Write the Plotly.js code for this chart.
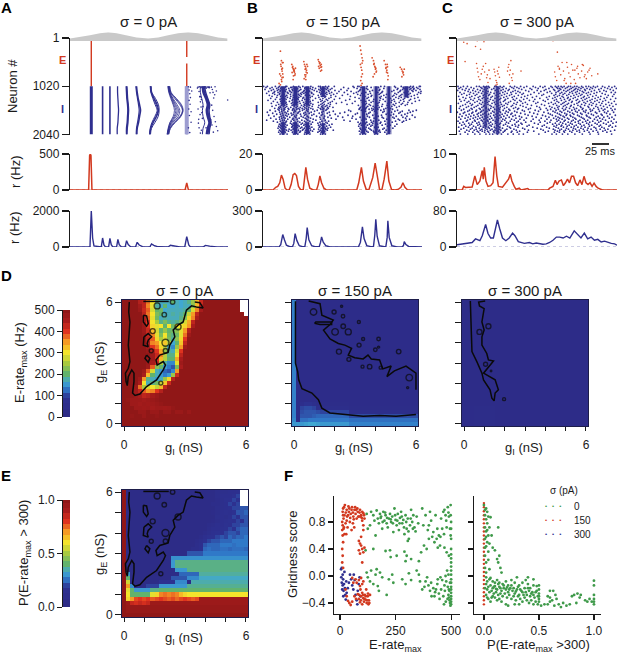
<!DOCTYPE html>
<html><head><meta charset="utf-8">
<script src="https://cdn.plot.ly/plotly-3.0.1.min.js"></script>
<style>html,body{margin:0;padding:0;background:#fff}</style></head>
<body><div id="chart" style="width:617px;height:653px"></div>
<script>
const RED='#d2391f', BLUE='#2f2f8f', GREEN='#3f9a4a', DOT='#d9512f', INK='#1a1a1a', GREY='#c9c9c9';
const R=500, N=null;
// time axis unit: 1 step = 25/51 ms
const tRange=[0,475];
const bumpT=[0,30,60,90,115,140,170,200,235,265,295,325,355,385,415,445,473];
const bumpA=[6,9,13,18,20,18,13,8,6,8,13,18,20,18,13,8,6];

// ---- Panel A raster
const aEspikes=[[64,64],[351,351],[351,351]];
const aEneurons=[[1,1020],[1,400],[540,1020]];
const aLevels=[1020,1150,1280,1410,1530,1660,1790,1910,2040];
const aFronts=[[64,64,64,64,64,64,64,64,64],[98,98,98,98,98,98,98,98,98],[120,120,120,120,120,120,120,120,120],
[143,143,144,145,146,145,144,142,142],[169,170,171,173,174,173,172,170,170],[171,172,173,175,176,175,174,172,171],[200,202,205,209,212,209,206,202,201],[198,200,203,206,208,206,203,200,199],
[242,245,253,262,266,260,250,243,240],[241,243,249,256,262,255,246,241,239],[244,246,257,266,268,265,255,245,242],[243,244,251,259,264,258,248,242,240],
[298,302,315,330,338,330,312,300,295],[300,304,320,335,340,333,316,302,297],[297,300,310,322,330,325,308,298,294],[296,299,306,315,322,316,303,297,293],[294,297,303,310,314,310,300,295,292],[299,303,318,333,339,332,314,301,296],[295,298,305,312,318,313,301,296,292],[296,300,308,318,326,320,305,297,293],
[351,351,351,351,351,351,351,351,351],[400,402,410,415,412,415,420,415,412],[392,392,396,400,398,400,405,400,398],[404,408,414,420,418,420,424,420,418]];
const aFrontW=[3,1.6,1.6,1.3,1.5,1.5,1.6,1.2,1.3,1,1,1,.8,.8,.8,.8,.8,.8,.8,.8,2.2,3,1,1.5];
const aDotsT=[356,358,360,362,361,357,359,364,356,360,385,388,390,392,394,396,398,386,388,392,425,428,430,432,435,426,429,433,437,440,444,436,423,427,431,419,385,391,395,474,440,421,383,389,394,397,399,402,405,408,410,413,416,418,406,395,400,409,387,392,362,358,364,366];
const aDotsN=[1030,1100,1180,1260,1400,1500,1640,1780,1900,2000,1040,1130,1240,1350,1460,1580,1700,1800,1900,2010,1040,1090,1150,1270,1200,1420,1530,1660,1770,1870,1960,1030,1730,1840,1990,1050,1500,1620,1950,1310,1120,1160,1060,1030,1045,1030,1060,1035,1050,1030,1060,1035,1045,1030,1055,1300,1450,1900,1720,1240,1040,1320,1560,1120];

// ---- Panel B raster
const bEt=[52,55,58,54,56,57,50,53,59,55,48,52,56,57,53,58,86,88,90,92,94,96,89,93,91,87,95,90,92,122,124,126,128,130,132,125,127,129,131,123,128,126,165,167,169,171,173,175,168,172,170,166,174,290,292,294,296,298,291,293,295,297,294,292,296,293,326,330,332,334,336,338,331,335,333,329,337,362,366,368,370,372,374,367,371,369,373,410,414,416,418,420,422,415,419,60,97,133,60,296,339,372,175,128,93];
const bEn=[280,480,520,600,660,700,760,800,760,880,960,990,920,840,560,640,560,620,650,690,720,760,600,680,800,730,790,880,660,500,560,600,640,680,740,780,820,720,560,860,880,660,460,500,540,580,620,680,640,700,520,600,560,170,260,340,420,480,560,620,680,760,820,900,960,1000,420,480,540,600,660,720,560,620,760,820,640,480,560,620,680,740,800,640,560,720,880,620,660,700,740,780,660,820,720,520,640,600,830,530,700,610,610,780,710];
const bCoreT=[60,97,133,180,300,338,376,428];
const bCoreA=[1020,1020,1020,1020,1020,1020,1020,1020];
const bCoreB=[1430,1430,1430,1250,2040,2040,2040,1260];
const bCoreW=[3.5,4,3.5,3,3.5,3,3,4];
const bLowA=[1780,1780,1780,1800];
const bLowT=[60,97,133,180];
const bINeurons=[1024,1045,1066,1087,1108,1129,1150,1171,1192,1213,1234,1255,1276,1297,1318,1339,1360,1381,1402,1423,1444,1465,1486,1507,1528,1549,1570,1591,1612,1633,1654,1675,1696,1717,1738,1759,1780,1801,1822,1843,1864,1885,1906,1927,1948,1969,1990,2030];
const bIRows=[
[2,13,37,49,68,71,91,107,119,143,166,171,187,196,213,269,283,287,311,352,363,393,413,441,449,467,470],
[9,27,46,55,66,83,86,111,126,149,172,179,192,241,272,293,323,345,396,419,437,447,459],
[21,41,53,63,77,93,103,125,141,157,173,185,193,206,255,281,309,361,403,421,442,451,463],
[6,31,47,57,69,87,101,113,129,147,167,175,189,201,233,291,313,349,401,417,439,450,469],
[25,43,52,65,79,89,109,123,137,153,171,181,195,215,251,289,327,347,391,411,445,457],
[17,35,51,67,81,95,105,121,139,161,176,183,197,227,263,285,319,357,385,409,433,448,472],
[33,45,59,73,85,99,117,127,145,169,177,190,205,243,279,307,343,355,404,422,431,465],
[11,29,50,61,75,94,112,122,146,174,186,199,221,271,295,321,351,394,425,440,471],
[35,49,63,82,106,115,129,151,173,191,211,253,283,314,347,369,399,415,435,461],
[19,43,57,71,91,109,127,139,165,183,203,237,291,325,361,391,411,429,452],
[27,53,67,83,101,113,131,147,175,187,217,261,305,323,353,387,407,427,443],
[41,59,73,91,107,121,141,167,185,203,275,315,349,367,397,413,433,463],
[23,55,65,81,103,119,135,157,179,197,229,287,311,351,381,405,423,453],
[37,51,69,89,105,125,137,171,189,213,259,303,331,359,391,419,441],
[15,57,64,87,99,117,131,149,177,193,247,293,317,349,385,411,437,467],
[31,53,65,79,95,109,129,141,173,185,207,275,307,329,365,393,421,455],
[43,57,69,89,103,121,137,165,181,201,235,297,323,347,383,407,433],
[25,55,67,85,97,111,127,143,177,195,219,267,309,343,373,397,417,445],
[47,61,71,91,101,123,135,149,173,183,201,251,305,317,357,389,413,431],
[39,55,65,87,93,115,125,139,167,179,191,285,303,321,343,371,393,425],
[27,51,61,71,93,103,121,131,147,175,187,199,297,313,329,355,385,407],
[47,53,67,83,99,111,125,137,165,177,193,209,291,309,335,347,373,399],
[35,49,63,75,91,105,117,129,143,171,181,195,289,307,325,341,367,381],
[45,55,65,77,89,101,109,123,135,149,173,179,191,287,305,317,331,343,361,387],
[21,48,62,88,94,118,130,162,188,256,294,326,352,378,402,436,458],
[37,56,74,96,110,134,154,180,210,262,306,334,362,394,416,448],
[13,50,66,92,106,126,144,176,198,244,298,320,358,384,410,440],
[29,58,70,84,104,122,138,168,192,230,282,316,340,374,406,432],
[41,52,76,90,112,128,152,178,216,276,310,336,368,390,424],
[17,60,68,86,100,124,146,174,200,254,300,328,354,382,414,446],
[33,54,72,94,114,132,160,184,224,268,312,344,376,398,430],
[49,62,80,98,120,136,170,194,238,290,318,356,388,418,454],
[23,56,66,90,108,126,142,182,204,266,304,332,360,392,426],
[39,50,74,88,102,130,150,172,218,278,308,338,370,404,438],
[11,58,64,92,116,134,158,186,242,296,322,346,378,408,428],
[31,52,70,84,104,124,140,176,196,260,302,330,364,396,420],
[43,60,68,96,110,128,148,170,188,284,310,324,352,386,416],
[55,63,82,92,100,118,136,164,178,192,292,306,328,350,374],
[49,58,66,86,98,114,126,144,172,184,206,288,304,318,342,366,400],
[53,61,72,90,104,122,132,166,176,198,294,312,326,356,380],
[47,56,64,88,94,108,128,138,170,180,190,286,302,322,338,372,394],
[51,60,68,86,102,116,130,146,168,182,202,298,308,334,344,376],
[45,54,62,92,100,112,124,140,174,186,194,290,300,316,336,362,388],
[57,65,78,90,96,120,134,152,166,178,188,292,306,320,340,358],
[49,59,70,84,106,118,128,142,172,192,210,296,304,324,348,368],
[53,63,76,94,100,112,136,148,168,176,184,288,310,330,346,378],
[47,56,66,88,98,110,126,138,164,174,182,294,302,314,332,350,364],
[51,58,62,72,92,96,104,124,130,140,172,178,186,290,298,306,334,342,370]];

// ---- Panel C raster
const cEt=[7,20,30,52,55,58,60,62,64,68,72,75,78,82,85,88,90,92,95,98,110,112,114,116,118,120,122,124,126,115,119,150,152,154,156,158,160,162,164,166,155,190,282,285,290,292,296,300,304,308,312,316,320,324,328,332,336,340,344,348,352,356,360,365,370,375,380,384,388,395,400,418,70,128,80,60,298,318,338,358,378,304,326,350,372,392,24];
const cEn=[40,90,120,10,180,540,640,720,820,880,760,660,600,720,540,840,780,940,680,860,660,720,800,900,940,700,760,620,830,1000,980,700,620,560,780,680,480,840,900,760,960,700,20,60,720,820,900,600,640,780,520,700,860,960,620,740,820,560,680,880,960,640,760,840,700,580,780,860,720,640,800,760,240,10,80,60,300,900,960,600,820,660,520,680,560,680,500];
const cCoreT=[85,120];
const cCoreB=[1900,2040];
const cCoreW=[2.6,3];
const cINeurons=[1024,1045,1066,1087,1108,1129,1150,1171,1192,1213,1234,1255,1276,1297,1318,1339,1360,1381,1402,1423,1444,1465,1486,1507,1528,1549,1570,1591,1612,1633,1654,1675,1696,1717,1738,1759,1780,1801,1822,1843,1864,1885,1906,1927,1948,1969,1990,2030];
const cIRows=[
[3,19,31,58,66,79,88,93,112,117,128,139,158,171,189,207,226,247,261,279,292,301,309,318,331,337,349,356,370,383,391,405,417,432,451,468],
[11,42,71,83,96,121,134,163,178,199,233,255,283,296,313,327,344,362,374,397,411,439,460],
[6,27,50,74,90,109,125,146,168,184,217,241,273,299,305,322,339,353,368,386,402,428,447,473],
[16,36,61,81,103,119,137,155,192,222,264,287,308,334,350,359,379,394,421,455],
[2,24,47,69,87,114,131,152,173,204,238,259,290,303,317,329,346,365,381,408,436,464],
[33,55,77,92,123,143,166,181,213,249,276,300,324,341,357,372,399,424,443],
[9,40,64,84,100,118,136,160,187,229,268,294,311,335,352,376,390,415,458,470],
[21,49,73,89,110,127,149,175,197,243,281,306,320,343,363,384,407,431],
[14,37,59,82,97,122,141,162,193,219,257,293,315,332,355,371,396,440,466],
[29,54,78,94,116,133,156,182,210,252,288,304,326,347,367,388,413,449],
[5,44,68,86,105,124,147,170,201,236,274,298,312,338,360,378,403,427,462],
[18,38,63,80,101,120,139,164,191,224,266,291,316,330,351,375,392,419,445],
[26,52,75,91,113,130,151,177,208,246,284,307,328,345,369,385,410,437,471],
[8,41,65,85,99,126,144,167,198,231,270,295,319,336,358,380,401,425,456],
[22,48,70,88,107,122,142,172,186,215,256,289,310,333,354,373,395,416,441],
[12,35,60,83,95,117,138,159,190,227,262,297,323,342,364,387,409,433,467],
[30,53,76,90,111,129,153,179,203,240,280,302,318,340,361,377,398,422,450],
[4,39,67,84,104,121,145,169,195,234,272,292,314,331,356,382,404,430,459],
[25,46,72,92,115,132,150,176,209,251,286,309,327,348,370,393,414,442,472],
[17,43,62,81,98,124,140,165,188,221,260,296,321,339,359,379,400,426,453],
[10,34,57,79,102,119,135,161,196,237,275,303,316,337,366,389,412,435,463],
[28,51,74,87,108,128,148,174,205,245,282,299,325,346,368,391,418,446],
[7,42,66,86,100,123,141,168,183,218,265,290,313,334,355,374,406,429,457],
[20,45,69,93,112,126,154,180,212,248,278,301,322,349,372,395,420,439,469],
[13,37,58,78,96,118,137,157,194,232,269,294,317,341,362,383,402,434,461],
[32,56,73,89,106,125,146,171,200,242,285,306,329,352,376,397,423,448],
[1,23,47,70,85,110,129,152,178,216,258,291,311,335,357,381,411,438,465],
[19,44,64,82,101,121,143,163,189,228,271,298,320,343,367,390,415,444],
[9,36,60,77,94,116,134,160,202,239,277,304,326,347,371,399,428,454],
[27,50,71,88,109,127,149,173,211,254,283,308,324,336,358,384,405,431,470],
[15,41,63,83,99,120,139,166,185,223,263,293,315,338,363,386,419,447],
[6,33,55,75,91,113,131,155,192,235,273,300,319,344,369,392,413,436,460],
[24,48,68,86,103,124,145,175,206,250,287,305,328,350,374,396,424,452],
[11,39,61,80,97,117,136,162,187,226,267,295,312,332,353,378,408,432,466],
[31,52,72,90,107,122,142,170,199,244,279,302,321,345,365,388,417,441],
[3,28,54,76,92,114,133,158,182,220,261,297,318,340,360,382,403,427,458],
[18,46,65,84,100,119,147,177,204,247,276,307,330,351,373,394,421,449,473],
[8,35,59,79,95,115,129,153,190,230,268,292,314,337,361,385,410,435,463],
[22,43,67,87,105,126,144,172,193,241,284,303,323,342,366,391,416,443],
[14,38,62,81,98,118,138,164,183,214,259,296,311,333,354,377,400,426,455],
[26,49,70,85,102,123,150,174,208,253,288,309,327,348,370,393,422,451,471],
[5,34,56,78,93,111,127,156,181,225,266,294,316,339,359,380,407,430,461],
[20,45,66,84,96,116,135,159,195,238,274,301,325,346,368,389,412,437],
[12,40,57,74,89,104,125,148,169,201,249,286,310,331,352,375,398,425,448],
[29,51,69,83,99,113,130,143,176,212,256,291,305,322,344,363,387,414,440,468],
[7,36,60,75,91,108,121,141,163,186,228,271,298,317,335,356,378,404,433,456],
[24,47,64,82,94,110,124,137,161,179,209,262,289,304,319,341,364,392,418,445],
[10,32,53,68,86,97,106,120,132,151,167,184,197,243,282,295,313,329,350,372,395,420,459]];

// ---- Rates
const aRateET=[0,56,59,61,63,66,346,348,351,354,356,475];
const aRateE=[0,0,480,500,480,0,0,40,100,40,0,0];
const aRateIT=[0,60,64,68,72,94,98,102,106,116,120,124,128,140,144,148,154,166,170,175,182,197,202,208,218,240,245,252,265,295,302,312,330,345,351,357,362,400,407,420,440,475];
const aRateI=[0,0,2000,500,60,0,500,120,20,0,480,130,20,0,420,130,20,0,350,140,20,0,260,110,20,0,170,90,10,0,100,60,5,0,580,120,5,0,90,50,5,0];
const bRateET=[0,30,38,44,50,55,60,66,72,78,84,90,95,100,106,112,120,124,128,133,140,150,160,165,170,175,182,190,280,286,294,300,308,316,322,328,335,340,348,355,362,370,376,384,395,405,412,418,424,432,475];
const bRateE=[0,0,1.5,2,4,8.3,6,1,0,0,3,8.5,9.2,8,2,.3,0,6,12.6,6,1,0,0,3,7.8,4,1,0,0,4,12.6,5,.5,0,3,7,15,9,.5,0,6,16,5,.3,0,.5,1.5,4,1.5,0,0];
const bRateIT=[0,48,53,59,64,70,80,88,92,96,101,108,118,125,129,132,137,145,155,168,172,175,180,188,200,285,291,297,302,310,322,330,334,337,341,348,362,367,371,373,377,385,400,416,420,422,427,435,475];
const bRateI=[0,0,20,104,60,15,3,2,30,112,55,12,2,3,70,162,60,12,2,2,40,84,40,10,1,0,40,168,70,12,2,3,100,230,90,10,2,3,80,218,80,10,1,0,15,45,20,5,0];
const cRateET=[0,15,20,25,45,53,60,68,75,78,81,86,92,100,107,113,118,123,135,148,153,158,163,170,175,185,190,210,215,270,275,285,292,297,303,310,316,322,328,334,340,346,352,358,365,371,377,383,389,395,401,407,413,419,425,432,475];
const cRateE=[0,0,1,.7,.8,3.9,1.5,2.5,5.4,3,6.3,2.5,1,1.2,2,9.3,4,1,.8,2.5,3,4.4,2.5,1,.2,.5,0,.4,0,0,.5,1,2.7,1.5,2.5,2.8,1.2,2,3,2,3.8,3.8,2,1.2,2.8,1.5,3.8,2,1.5,2,1,1.9,1,.5,.3,0,0];
const cRateIT=[0,15,30,45,55,62,68,75,85,92,100,108,113,120,127,135,145,155,165,172,182,190,200,215,225,235,245,255,265,275,285,295,305,315,325,335,348,358,368,378,388,398,408,418,428,438,448,458,468,475];
const cRateI=[5,7,9,10,18,15,14,25,50,30,20,20,35,60,40,20,14,20,31,25,12,10,8,10,7,9,7,6,7,10,15,22,22,20,24,20,36,27,20,31,18,22,15,17,11,13,10,8,7,4];

// ---- Heat maps
const colorStops=[[0,'#2d2a85'],[.18,'#2d3190'],[.26,'#3079c8'],[.32,'#40a8d2'],[.4,'#62b36c'],[.5,'#a8ca3f'],[.6,'#f4e42c'],[.7,'#f59a25'],[.8,'#df331f'],[.9,'#a81c1c'],[1,'#901717']];
const gI=[0,.2,.4,.6,.8,1,1.2,1.4,1.6,1.8,2,2.2,2.4,2.6,2.8,3,3.2,3.4,3.6,3.8,4,4.2,4.4,4.6,4.8,5,5.2,5.4,5.6,5.8,6];
const gETop=[6,5.8,5.6,5.4,5.2,5,4.8,4.6,4.4,4.2,4,3.8,3.6,3.4,3.2,3,2.8,2.6,2.4,2.2,2,1.8,1.6,1.4,1.2,1,.8,.6,.4,.2,0];
const rate0=[
[R,R,R,R,440,430,370,300,190,170,170,170,200,170,160,170,190,240,330,420,R,R,R,R,R,R,R,R,R,N,N],
[R,R,R,R,460,430,360,290,180,160,200,160,160,170,160,170,170,230,330,440,R,R,R,R,R,R,R,R,R,N,N],
[R,R,R,R,470,420,380,280,200,210,160,170,170,170,170,180,200,280,360,450,R,R,R,R,R,R,R,R,R,N,N],
[R,R,R,R,R,430,370,300,220,200,170,170,180,170,180,200,270,350,430,R,R,R,R,R,R,R,R,R,R,R,N],
[R,R,R,R,R,440,380,290,210,170,180,170,170,170,190,230,310,360,450,R,R,R,R,R,R,R,R,R,R,R,R],
[R,R,R,R,R,450,400,300,250,190,220,190,180,190,220,280,340,430,R,R,R,R,R,R,R,R,R,R,R,R,R],
[R,R,R,R,R,470,400,310,290,300,200,300,210,300,300,310,350,450,R,R,R,R,R,R,R,R,R,R,R,R,R],
[R,R,R,R,R,470,420,330,280,200,240,200,210,230,290,350,440,R,R,R,R,R,R,R,R,R,R,R,R,R,R],
[R,R,R,R,R,480,430,360,290,220,300,210,190,210,290,370,470,R,R,R,R,R,R,R,R,R,R,R,R,R,R],
[R,R,R,R,R,R,440,380,310,250,290,220,180,230,310,400,R,R,R,R,R,R,R,R,R,R,R,R,R,R,R],
[R,R,R,R,R,R,450,360,350,300,320,260,160,200,320,430,R,R,R,R,R,R,R,R,R,R,R,R,R,R,R],
[R,R,R,R,R,R,460,400,370,310,260,170,140,240,350,470,R,R,R,R,R,R,R,R,R,R,R,R,R,R,R],
[R,R,R,R,R,R,480,440,400,340,240,180,170,280,400,R,R,R,R,R,R,R,R,R,R,R,R,R,R,R,R],
[R,R,R,R,R,R,R,470,420,360,260,190,190,300,430,R,R,R,R,R,R,R,R,R,R,R,R,R,R,R,R],
[R,R,R,R,R,R,480,470,410,330,260,200,200,340,450,R,R,R,R,R,R,R,R,R,R,R,R,R,R,R,R],
[R,R,R,R,R,R,480,450,420,250,180,140,140,290,470,R,R,R,R,R,R,R,R,R,R,R,R,R,R,R,R],
[R,R,R,R,R,R,470,380,230,200,150,130,110,220,450,R,R,R,R,R,R,R,R,R,R,R,R,R,R,R,R],
[R,R,R,R,R,470,380,280,170,150,120,110,140,350,R,R,R,R,R,R,R,R,R,R,R,R,R,R,R,R,R],
[R,R,R,R,R,450,330,200,170,150,130,150,240,420,R,R,R,R,R,R,R,R,R,R,R,R,R,R,R,R,R],
[R,R,R,R,470,350,190,170,150,170,240,310,440,R,R,R,R,R,R,R,R,R,R,R,R,R,R,R,R,R,R],
[R,R,R,R,450,300,170,190,210,270,320,420,R,R,R,R,R,R,R,R,R,R,R,R,R,R,R,R,R,R,R],
[R,R,R,480,370,250,280,300,270,330,430,R,R,R,R,R,R,R,R,R,R,R,R,R,R,R,R,R,R,R,R],
[R,R,R,470,430,380,350,360,400,440,R,R,R,R,R,R,R,R,R,R,R,R,R,R,R,R,R,R,R,R,R],
[R,R,490,470,450,430,440,460,480,R,R,R,R,R,R,R,R,R,R,R,R,R,R,R,R,R,R,R,R,R,R],
[R,490,470,470,470,460,470,480,490,R,R,R,R,R,R,R,R,R,R,R,R,R,R,R,R,R,R,R,R,R,R],
[R,R,470,470,460,470,465,470,480,490,R,R,R,R,R,R,R,R,R,R,R,R,R,R,R,R,R,R,R,R,R],
[R,R,R,470,470,465,470,460,470,470,465,470,490,R,R,R,R,R,R,R,R,R,R,R,R,R,R,R,R,R,R],
[R,R,R,R,480,480,R,480,480,R,480,480,R,480,480,R,480,R,R,R,R,R,R,R,R,R,R,R,R,R,R],
[R,R,490,R,R,480,R,R,490,R,R,R,R,R,R,R,R,R,R,R,R,R,R,R,R,R,R,R,R,R,R],
[R,R,R,R,R,R,R,R,R,R,R,R,R,R,R,R,R,R,R,R,R,R,R,R,R,R,R,R,R,R,R],
[R,R,R,R,R,R,R,R,R,R,R,R,R,R,R,R,R,R,R,R,R,R,R,R,R,R,R,R,R,R,R]];
const H=100;
const prob0=[
[H,4,4,4,4,4,4,4,4,4,4,4,4,4,4,4,4,4,4,4,4,4,4,10,12,12,14,14,16,N,N],
[H,4,4,4,4,4,4,4,4,4,4,4,4,4,4,4,4,4,4,4,4,4,4,10,14,14,14,18,20,N,N],
[H,4,4,4,4,4,4,4,4,4,4,4,4,4,4,4,4,4,4,4,4,4,4,8,12,16,16,20,18,N,N],
[H,4,4,4,4,4,4,4,4,4,4,4,4,4,4,4,4,4,4,4,4,4,8,8,12,14,20,18,20,N,N],
[H,4,4,4,4,4,4,4,4,4,4,4,4,4,4,4,4,4,4,4,4,4,4,10,12,14,16,20,20,22,22],
[H,4,4,4,4,4,4,4,4,4,4,4,4,4,4,4,4,4,4,4,4,4,6,10,14,16,14,18,22,22,24],
[H,4,4,4,4,4,4,4,4,4,4,4,4,4,4,4,4,4,4,4,4,4,4,12,14,12,16,20,18,22,22],
[H,4,4,4,4,4,4,4,4,4,4,4,4,4,4,4,4,4,4,4,4,4,6,10,14,16,18,16,20,18,22],
[H,4,4,4,4,4,4,4,4,4,4,4,4,4,4,4,4,4,4,4,4,8,10,14,14,18,16,20,20,22,22],
[H,4,4,4,4,4,4,4,4,4,4,4,4,4,4,4,4,4,4,4,4,10,14,14,16,18,20,18,22,24,24],
[H,4,4,4,4,4,4,4,4,4,4,4,4,4,4,4,4,4,4,4,8,12,16,18,16,20,22,22,20,24,24],
[H,4,4,4,4,4,4,4,4,4,4,4,4,4,4,4,4,4,4,8,14,18,18,20,22,20,24,22,24,24,26],
[H,4,4,4,4,4,4,4,4,4,4,4,4,4,4,4,4,4,8,12,18,20,22,22,24,24,24,26,26,26,26],
[H,4,4,4,4,4,4,4,4,4,4,4,4,4,4,4,4,4,10,14,22,24,24,24,26,26,26,25,26,26,26],
[H,4,4,4,4,4,4,4,4,4,4,4,4,4,4,4,4,10,10,14,24,25,24,24,25,25,24,25,25,25,24],
[H,4,4,4,4,4,4,4,4,4,4,4,4,4,4,4,22,22,22,22,26,26,26,26,26,26,26,26,26,26,26],
[H,4,4,4,4,4,4,4,4,4,4,4,29,29,29,29,29,29,29,29,29,29,29,29,29,29,29,29,29,29,29],
[H,4,4,4,4,4,4,4,4,4,4,4,30,38,38,38,38,38,38,38,38,38,38,38,38,38,38,38,38,38,38],
[H,4,4,4,4,4,4,4,4,4,4,4,30,38,38,38,38,38,38,38,38,38,38,38,38,38,38,38,38,38,38],
[H,4,4,4,4,4,4,4,4,4,4,4,4,30,30,30,38,38,38,38,38,38,38,38,38,38,38,38,38,38,38],
[H,30,4,4,4,4,4,4,4,4,4,4,4,4,24,24,24,24,24,36,36,36,36,36,36,36,36,36,36,36,36],
[H,40,4,4,4,4,4,4,4,4,4,4,22,22,22,22,28,28,28,33,33,33,33,33,33,33,33,33,33,33,33],
[H,55,4,4,4,4,4,4,4,18,18,18,18,28,28,28,5,35,35,35,35,35,35,35,35,35,35,35,35,35,35],
[H,70,28,5,5,5,20,20,20,30,30,30,30,30,30,30,37,37,37,37,37,37,37,37,37,37,37,37,37,37,37],
[H,58,40,30,30,30,30,38,38,40,40,40,40,40,40,40,40,40,40,40,40,40,40,40,40,40,40,40,40,40,40],
[H,60,40,40,40,40,40,58,62,72,74,72,74,72,66,62,60,60,60,60,60,60,60,60,60,60,60,60,60,60,60],
[H,62,70,78,80,78,80,76,78,80,78,76,78,75,78,80,78,76,78,95,95,95,95,95,95,95,95,95,95,95,95],
[H,95,85,82,85,82,85,95,95,95,95,95,95,95,95,95,95,95,95,95,95,95,95,95,95,95,95,95,95,95,95],
[H,97,97,97,97,97,97,97,97,97,97,97,97,97,97,97,97,97,97,97,97,97,97,97,97,97,97,97,97,97,97],
[H,97,97,97,97,97,97,97,97,97,97,97,97,97,97,97,97,97,97,97,97,97,97,97,97,97,97,97,97,97,97],
[H,H,H,H,H,H,H,H,H,H,H,H,H,H,H,H,H,H,H,H,H,H,H,H,H,H,H,H,H,H,H]];
const rate150X=[-.1,.1,.3,.5,.7,.9,1.1,1.3,2.7,6.1];
const rate150Y=[-.1,.1,.3,.5,.7,.9,1.1,6.1];
const rate150=[[150,150,150,155,160,160,155,150,135],[140,30,125,125,130,130,130,130,125],[135,30,110,110,110,115,120,120,105],[135,30,105,110,110,110,105,100,50],[135,30,100,105,105,100,60,45,35],[135,30,55,90,90,60,40,35,30],[135,30,30,30,30,30,30,30,30]];
const rate300X=[-.1,.5,1.5,6.1], rate300Y=[-.1,.9,6.1];
const rate300=[[30,34,24],[24,24,24]];
const barLevels=[0,5,10,15,20,25,30,35,40,45,50,55,60,65,70,75,80,85,90,95,100];

// ---- Contours (gI, gE in nS)
const c0X=[.26,.23,.29,.26,.21,.29,.21,.07,.1,.16,.21,.38,.49,.49,.42,.54,.78,1.11,1.6,1.93,2.04,1.93,1.63,1.57,1.76,2.17,2.25,2.5,2.42,2.66,2.91,3.07,3.32,3.56,3.89,3.73,3.48,N,.95,1.11,1.19,1.11,.95,.95,N,.98,1.19,1.36,1.19,1.14,1.19,.95,.98,N,1.11,1.27,1.19,1.03,1.11,N,.95,2.2];
const c0Y=[6,5.51,5.02,4.54,3.88,3.07,2.74,2.5,2.09,1.89,2.33,2.66,2.5,2.09,1.52,1.4,1.47,1.84,2.17,2.66,2.9,3.07,2.9,3.15,3.39,3.52,3.88,4.29,4.62,4.86,5.02,5.6,5.81,5.76,5.71,5.97,6,N,5.35,5.32,4.94,4.81,5.02,5.35,N,4.29,4.45,4.29,4.13,3.96,3.8,3.88,4.29,N,3.39,3.23,3.03,3.23,3.39,N,6.03,6.03];
const c0RingX=[1.41,1.34,1.98,1.63,2.39,2.04,1.81,2.66,2.04], c0RingY=[4.57,3.6,5.38,5.81,6,3.6,2.01,4.78,4], c0RingS=[5,4,4.5,6,4.5,4.5,4,6,7];
const c150X=[.07,.07,.18,.23,.39,.88,1.2,1.37,1.77,2.59,3.4,4.21,5.02,6,N,.72,1.28,1.37,1.93,1.77,1.45,1.77,2.18,2.5,2.83,2.67,2.99,3.4,3.64,3.8,4.21,4.37,4.78,4.57,4.94,5.51,6,6,N,1.04,1.85,1.85,1.28,1.04,1.04];
const c150Y=[6.04,2.99,2.58,2.17,1.73,1.52,1.19,.78,.54,.46,.38,.42,.38,.46,N,6.05,5.92,5.35,5.11,4.89,4.62,4.18,3.96,3.88,3.72,3.39,3.26,3.2,3.39,3.2,3.15,2.71,2.85,2.33,2.61,2.85,2.5,1.68,N,5.02,5.02,4.89,4.89,4.95,5.02];
const c150RingX=[.96,1.97,2.34,2.41,3.19,2.42,2.02,2.67,3.4,4.16,3.2,4.16,4,2.21,5.15,2.7,3.37,3.72,4.26,5.67,5.59];
const c150RingY=[5.51,5.51,5.79,5.3,5.02,4.81,4.53,4.53,4.18,4.18,3.88,3.78,3.65,3.56,3.56,3.18,2.82,2.82,2.77,2.28,1.79];
const c150RingS=[6.5,4,2,3.5,3,4.5,6.5,6,3,3.5,4,2,3.5,5,4.5,4,3,4.5,3,6.5,2];
const c300X=[.31,.34,.39,.63,.88,.96,1.28,1.37,1.48,1.53,1.69,1.53,1.28,.96,1.45,1.2,1.12,.88,.88,.99,.88,.99,.76,.72,1.04];
const c300Y=[6.05,4.54,3.56,3.07,2.5,2.17,1.68,1.27,1.14,1.52,1.68,2.17,2.33,2.5,3.1,3.15,3.47,3.88,4.29,4.62,5.02,5.68,5.81,6,6.05];
const c300RingX=[1.2,.76,1.06,1.33,1.97], c300RingY=[4.81,4.53,2.94,2.61,1.22], c300RingS=[5,5,4,1.5,3];

// ---- Panel F (E-rate max, gridness) and (P, gridness)
const greenLeft=[[120,.92],[125,.7],[135,.75],[140,.95],[150,.9],[155,.82],[160,.6],[165,.97],[170,.85],[175,.78],[180,.92],[185,.88],[190,.7],[195,.95],[200,.82],[205,.9],[210,.78],[215,.72],[220,.85],[225,.92],[230,.8],[235,.88],[240,.65],[245,1],[250,.83],[255,.75],[260,.92],[265,.68],[270,.86],[275,.95],[280,.78],[285,.83],[290,.62],[295,.9],[300,.7],[305,.85],[310,.55],[315,.75],[320,.98],[325,.8],[330,.9],[335,.72],[340,.66],[305,.52],[370,1],[375,.75],[385,.9],[395,.68],[400,.55],[405,.95],[410,.82],[420,.65],[425,.5],[430,.9],[435,.55],[440,.42],[445,.6],[450,.45],[455,.85],[460,.7],[465,.95],[470,.98],[475,.9],[480,.72],[485,1.02],[490,.88],[495,.7],[498,1.05],[378,.45],[390,.4],[115,.38],[150,.4],[205,.37],[225,.38],[228,.28],[255,.3],[290,.36],[295,.22],[300,.3],[320,.25],[355,.22],[365,.35],[480,.35],[490,.3],[470,.42],[500,.4],[500,.32],[500,.26],[500,.2],[500,.14],[500,.08],[500,.02],[500,-.05],[500,-.1],[500,-.16],[500,-.2],[500,-.25],[500,-.3],[500,-.34],[500,-.38],[500,-.42],[497,-.44],[495,-.4],[493,-.36],[490,-.32],[488,-.28],[492,-.22],[485,-.16],[495,-.1],[498,.6],[500,.55],[500,.7],[500,.8],[498,.9],[120,.05],[125,-.02],[135,-.08],[140,.08],[150,-.12],[160,.02],[165,.1],[170,-.15],[175,-.22],[180,.05],[190,-.02],[210,-.28],[220,-.05],[235,.02],[240,-.1],[280,-.05],[295,-.12],[320,-.06],[310,.04],[345,.08],[355,.02],[360,-.08],[370,-.2],[380,-.16],[385,-.08],[392,-.02],[398,-.14],[405,-.22],[410,-.1],[420,-.18],[425,-.3],[432,-.2],[438,-.12],[445,-.26],[448,-.34],[455,-.2],[460,-.06],[465,-.3],[470,-.14],[475,0],[478,-.08],[482,.08],[488,.02],[490,-.2],[452,-.02],[183,.86],[192,.8],[203,.94],[212,.86],[228,.84],[238,.78],[248,.9],[258,.82],[268,.78],[278,.88],[288,.72],[298,.8],[308,.66],[318,.85],[328,.7],[345,.88],[352,.78],[400,.75],[415,.58],[438,.7],[452,.58],[468,.62],[478,.82],[488,.94],[440,-.05],[428,-.24],[412,-.3],[472,-.22],[484,-.34],[476,-.38],[468,-.42]];
const redLeft=[[14,1],[22,1.05],[30,.98],[36,.9],[42,1],[48,.92],[54,1.02],[60,.88],[65,.98],[70,.92],[75,.85],[80,.95],[85,.88],[90,.98],[95,.9],[100,.82],[105,.93],[110,.85],[58,.78],[64,.72],[44,.8],[52,.68],[30,.82],[34,.72],[28,.62],[16,.85],[18,.72],[12,.95],[10,.8],[12,.6],[14,.5],[10,.4],[12,.3],[10,.2],[14,.12],[16,.7],[20,.9],[25,.78],[38,1.03],[68,1.02],[78,1],[92,.88],[100,.95],[105,.75],[85,.52],[90,.48],[95,.45],[100,.4],[85,.38],[90,.33],[105,.35],[110,.42],[95,.58],[100,.2],[105,.68],[55,-.03],[60,-.1],[70,-.05],[75,-.1],[95,-.03],[100,-.12],[105,-.08],[85,-.06],[90,-.15],[65,-.3],[72,-.34],[80,-.27],[85,-.34],[90,-.39],[95,-.3],[100,-.25],[105,-.33],[108,-.38],[112,-.28],[115,-.35],[120,-.4],[125,-.3],[130,-.36],[135,-.28],[118,-.2],[122,-.36],[128,-.42],[100,-.42],[92,-.2],[30,-.3],[36,-.37],[42,-.4],[48,-.43],[55,-.38],[25,-.2],[18,1.02],[26,.94],[32,.88],[40,.95],[46,.86],[52,.98],[58,.94],[62,.84],[72,.98],[82,.88],[88,.94],[98,.86],[108,.9],[12,.75],[10,.68],[14,.9],[20,.62],[110,-.34],[104,-.28],[116,-.3],[126,-.26],[132,-.4],[94,-.36],[86,-.28]];
const blueLeft=[[5,.1],[6,-.02],[8,-.1],[10,-.2],[12,-.14],[14,-.05],[16,-.22],[18,-.12],[20,.06],[22,-.18],[24,-.28],[26,-.35],[28,-.08],[30,-.25],[12,.02],[8,.12],[15,-.3],[35,-.18],[40,-.1],[45,.02],[50,-.05],[55,-.14],[60,-.2],[70,-.28],[75,-.36],[78,-.42],[80,-.22],[84,-.12],[88,-.02],[92,-.3],[66,-.06],[62,.02]];
const greenRight=[[0,1.05],[.02,1],[.03,.95],[.01,.9],[.04,.88],[.06,.87],[.02,.84],[.03,.78],[.01,.72],[.05,.72],[.02,.66],[.04,.6],[.07,.6],[.01,.55],[.03,.5],[.05,.48],[.02,.44],[.08,.42],[.1,.38],[.04,.36],[.01,.3],[.13,.72],[.12,.25],[.14,.3],[.13,.2],[.15,.12],[.16,.05],[.05,.1],[.02,.05],[.02,-.02],[.05,-.05],[.08,-.08],[.1,-.1],[.12,-.06],[.14,-.1],[.17,-.12],[.2,-.08],[.22,-.14],[.25,-.06],[.28,-.1],[.3,-.02],[.32,-.14],[.35,-.1],[.38,-.06],[.4,-.12],[.42,-.18],[.45,-.14],[.48,-.15],[.5,-.14],[.02,-.12],[.04,-.16],[.06,-.14],[.08,-.18],[.1,-.15],[.12,-.2],[.14,-.16],[.16,-.22],[.18,-.18],[.2,-.2],[.22,-.24],[.24,-.18],[.26,-.22],[.28,-.26],[.3,-.2],[.32,-.28],[.34,-.22],[.36,-.28],[.38,-.24],[.4,-.18],[.42,-.3],[.44,-.24],[.46,-.32],[.48,-.22],[.5,-.2],[.5,-.26],[.5,-.3],[.5,-.34],[.5,-.38],[.03,-.2],[.05,-.24],[.07,-.22],[.09,-.26],[.11,-.24],[.13,-.28],[.15,-.26],[.17,-.3],[.19,-.26],[.21,-.32],[.23,-.28],[.25,-.34],[.27,-.3],[.29,-.36],[.31,-.3],[.33,-.34],[.35,-.38],[.37,-.32],[.39,-.36],[.41,-.4],[.43,-.36],[.45,-.42],[.47,-.38],[.49,-.42],[.02,-.28],[.04,-.34],[.06,-.38],[.08,-.3],[.12,-.36],[.16,-.38],[.2,-.42],[.22,-.44],[.28,-.42],[.32,-.42],[.52,-.44],[.55,-.42],[.58,-.3],[.6,-.32],[.62,-.36],[.63,-.22],[.65,-.28],[.66,-.34],[.68,-.42],[.7,-.46],[.58,-.42],[.75,-.44],[.78,-.42],[.8,-.3],[.82,-.28],[.84,-.4],[.85,-.26],[.87,-.32],[.88,-.28],[.92,-.36],[.94,-.38],[.96,-.34],[.98,-.38],[1,-.28],[1,-.34],[1,-.38],[1,-.42],[1,-.07],[1,-.14],[.6,-.22],[.4,-.02],[.45,-.05],[.03,-.08],[.06,-.03],[.09,-.16],[.11,-.19],[.13,-.12],[.15,-.18],[.18,-.14],[.21,-.17],[.23,-.2],[.25,-.14],[.27,-.18],[.29,-.23],[.31,-.16],[.33,-.2],[.35,-.24],[.37,-.18],[.39,-.28],[.41,-.22],[.43,-.26],[.45,-.28],[.47,-.24],[.49,-.3],[.01,-.18],[.03,-.32],[.07,-.32],[.1,-.32],[.14,-.34],[.01,.98],[.03,.68],[.02,.58],[.01,.42],[.02,.2],[.01,.12],[.04,.24],[.6,-.38],[.72,-.4],[.64,-.44]];
const redRight=[[0,1.08],[0,1.02],[0,.96],[0,.9],[0,.84],[0,.78],[0,.72],[0,.66],[0,.6],[0,.54],[0,.48],[0,.42],[0,.36],[0,.3],[0,.24],[0,.18],[0,.12],[0,.06],[0,0],[0,-.06],[0,-.12],[0,-.18],[0,-.24],[0,-.3],[0,-.36],[0,-.42]];

// ---- assembly helpers
const W=617, Ht=653;
const xd=(a,b)=>[a/W,b/W], yd=(t,b)=>[1-b/Ht,1-t/Ht];
const font={family:'"Liberation Sans",Arial,sans-serif',size:12,color:INK};
const data=[], layout={width:W,height:Ht,margin:{l:0,r:0,t:0,b:0},paper_bgcolor:'#fff',plot_bgcolor:'rgba(0,0,0,0)',showlegend:false,font,annotations:[],shapes:[]};
function axes(n,xDom,yDom,xo,yo){
  const a=n===1?'':n;
  layout['xaxis'+a]=Object.assign({domain:xDom,anchor:'y'+a,showgrid:false,zeroline:false,fixedrange:true},xo);
  layout['yaxis'+a]=Object.assign({domain:yDom,anchor:'x'+a,showgrid:false,zeroline:false,fixedrange:true},yo);
}
function put(n,t){data.push(Object.assign(t,{xaxis:'x'+(n===1?'':n),yaxis:'y'+(n===1?'':n)}));}
function note(text,x,y,o){layout.annotations.push(Object.assign({text,xref:'paper',yref:'paper',x:x/W,y:1-y/Ht,showarrow:false,xanchor:'center',yanchor:'middle',font:{family:font.family,size:13,color:INK}},o||{}));}
const hidden={visible:false};
const leftAxis=(ticks,labels,range)=>({range,tickmode:'array',tickvals:ticks,ticktext:labels,showticklabels:labels.length>0,ticks:'outside',ticklen:7,tickwidth:1.2,tickcolor:INK,showline:true,linewidth:1.2,linecolor:INK,tickfont:{size:12,color:INK}});
function line(n,x,y,color,w,extra){put(n,Object.assign({type:'scatter',mode:'lines',x,y,line:{color,width:w},cliponaxis:false,hoverinfo:'skip'},extra||{}));}
function dots(n,x,y,color,s){put(n,{type:'scatter',mode:'markers',x,y,marker:{color,size:s,line:{width:0}},cliponaxis:false,hoverinfo:'skip'});}
function rowsToDots(n,rows,neurons,color,s){
  const x=[],y=[];
  rows.forEach((r,i)=>r.forEach(t=>{x.push(t);y.push(neurons[i]);}));
  dots(n,x,y,color,s);
}

// rasters
const rasterX=[[70,228],[263,422],[457,617]];
const neuronTicks=[1,1020,2040];
const rasterLabels=[['1','1020','2040'],[],[]];
rasterX.forEach((d,i)=>axes(i+1,xd(d[0],d[1]),yd(38,134.5),Object.assign({},hidden,{range:tRange}),leftAxis(neuronTicks,rasterLabels[i],[2040,1])));
aEspikes.forEach((t,i)=>line(1,t,aEneurons[i],RED,1.4));
aFronts.forEach((t,i)=>line(1,t,aLevels,BLUE,aFrontW[i],{line:{color:BLUE,width:aFrontW[i],shape:'spline'}}));
line(1,[351,351],[1020,2040],'#9d9dd0',4);
dots(1,aDotsT,aDotsN,BLUE,1.6);
dots(2,bEt,bEn,DOT,1.8);
bCoreT.forEach((t,i)=>line(2,[t,t],[bCoreA[i],bCoreB[i]],'rgba(47,47,143,.35)',bCoreW[i]+3));
bCoreT.forEach((t,i)=>line(2,[t,t],[bCoreA[i],bCoreB[i]],BLUE,bCoreW[i]));
bLowT.forEach((t,i)=>line(2,[t,t],[bLowA[i],2040],'rgba(47,47,143,.35)',bCoreW[i]+3));
bLowT.forEach((t,i)=>line(2,[t,t],[bLowA[i],2040],BLUE,bCoreW[i]-.5));
bLowT.forEach((t,i)=>line(2,[t,t],[1430,1780],'rgba(47,47,143,.5)',3.5));
rowsToDots(2,bIRows,bINeurons,BLUE,1.8);
dots(3,cEt,cEn,DOT,1.6);
cCoreT.forEach((t,i)=>line(3,[t,t],[1020,cCoreB[i]],'rgba(47,47,143,.35)',cCoreW[i]+4));
cCoreT.forEach((t,i)=>line(3,[t,t],[1020,cCoreB[i]],'rgba(47,47,143,.8)',cCoreW[i]));
rowsToDots(3,cIRows,cINeurons,BLUE,1.8);

// rates
const rateE=[[aRateET,aRateE,500,['0','500']],[bRateET,bRateE,20,['0','20']],[cRateET,cRateE,10,['0','10']]];
const rateI=[[aRateIT,aRateI,2000,['0','2000']],[bRateIT,bRateI,300,['0','300']],[cRateIT,cRateI,80,['0','80']]];
rateE.forEach((p,i)=>{const n=4+i;axes(n,xd(rasterX[i][0],rasterX[i][1]),yd(154,190),Object.assign({},hidden,{range:tRange}),leftAxis([0,p[2]],p[3],[0,p[2]]));
  line(n,tRange,[0,0],'#c98a7a',1,{line:{color:'#c98a7a',width:1,dash:'dot'}});line(n,p[0],p[1],RED,1.5);});
rateI.forEach((p,i)=>{const n=7+i;axes(n,xd(rasterX[i][0],rasterX[i][1]),yd(211,247),Object.assign({},hidden,{range:tRange}),leftAxis([0,p[2]],p[3],[0,p[2]]));
  line(n,tRange,[0,0],'#9a9ac8',1,{line:{color:'#9a9ac8',width:1,dash:'dot'}});line(n,p[0],p[1],BLUE,1.4);});

// stimulus bumps
rasterX.forEach((d,i)=>{const n=10+i;axes(n,xd(d[0],d[1]),yd(32.3,41),Object.assign({},hidden,{range:tRange}),Object.assign({},hidden,{range:[0,20]}));
  put(n,{type:'scatter',mode:'lines',x:bumpT,y:bumpA,fill:'tozeroy',fillcolor:GREY,line:{width:0,color:GREY},hoverinfo:'skip'});});

// heat maps
function heatAxes(n,l,r,t,b,labelled){
  const common={range:[-.1,6.1],tickmode:'array',tickvals:[0,6],ticks:'outside',tickwidth:1,tickcolor:INK,showline:true,mirror:true,linecolor:'#1d1d4a',linewidth:1,tickfont:{size:12,color:INK}};
  axes(n,xd(l,r),yd(t,b),Object.assign({},common,{ticklen:4,ticktext:['0','6'],ticklabelstandoff:4,minor:{tickmode:'array',tickvals:[1,2,3,4,5],ticks:'outside',ticklen:4,tickwidth:1,tickcolor:INK}}),
  Object.assign({},common,{ticklen:6,ticktext:['0','6'],showticklabels:labelled,minor:{tickmode:'array',tickvals:[1,2,3,4,5],ticks:'outside',ticklen:6,tickwidth:1,tickcolor:INK}}));
}
const heat=(n,x,y,z,zmax)=>put(n,{type:'heatmap',x,y,z,zmin:0,zmax,colorscale:colorStops,showscale:false,hoverinfo:'skip'});
const contour=(n,x,y,rx,ry,rs)=>{line(n,x,y,'#0a0a0a',1.5,{cliponaxis:true,connectgaps:false});
  put(n,{type:'scatter',mode:'markers',x:rx,y:ry,marker:{symbol:'circle-open',color:'#0a0a0a',size:rs,line:{width:1.4,color:'#0a0a0a'}},hoverinfo:'skip'});};
heatAxes(13,122,248,300,426,true);heat(13,gI,gETop,rate0,500);contour(13,c0X,c0Y,c0RingX,c0RingY,c0RingS);
heatAxes(14,292,418,300,426,false);heat(14,rate150X,rate150Y,rate150,500);contour(14,c150X,c150Y,c150RingX,c150RingY,c150RingS);
heatAxes(15,462,588,300,426,false);heat(15,rate300X,rate300Y,rate300,500);contour(15,c300X,c300Y,c300RingX,c300RingY,c300RingS);
heatAxes(16,122,248,490,617,true);heat(16,gI,gETop,prob0,100);contour(16,c0X,c0Y,c0RingX,c0RingY,c0RingS);

// colour bars
function bar(n,t,b,vals,labels){
  axes(n,xd(63,70),yd(t,b),Object.assign({},hidden,{range:[-.5,.5]}),{range:[0,100],tickmode:'array',tickvals:vals,ticktext:labels,ticks:'outside',ticklen:5,tickwidth:1,tickcolor:INK,showline:true,linecolor:INK,linewidth:1,tickfont:{size:12,color:INK}});
  put(n,{type:'heatmap',x:[0],y:barLevels,z:barLevels.map(v=>[v]),zmin:0,zmax:100,colorscale:colorStops,showscale:false,hoverinfo:'skip'});
}
bar(17,310,417,[0,20,40,60,80,100],['0','100','200','300','400','500']);
bar(18,500,607,[0,50,100],['0.0','0.5','1.0']);

// panel F
const scatterAxis=(ticks,labels,range)=>({range,tickmode:'array',tickvals:ticks,ticktext:labels,showticklabels:labels.length>0,ticks:'outside',ticklen:5,tickwidth:1.2,tickcolor:INK,showline:true,linecolor:INK,linewidth:1.2,tickfont:{size:12,color:INK}});
const scoreTicks=[.8,.4,0,-.4];
axes(19,xd(334,460),yd(496,614),scatterAxis([0,250,500],['0','250','500'],[-27,540]),scatterAxis(scoreTicks,['0.8','0.4','0.0','−0.4'],[-.563,1.185]));
axes(20,xd(474,601),yd(496,614),scatterAxis([0,.5,1],['0.0','0.5','1.0'],[-.09,1.064]),scatterAxis(scoreTicks,[],[-.563,1.185]));
const col=(a,i)=>a.map(p=>p[i]);
dots(19,col(greenLeft,0),col(greenLeft,1),GREEN,2.8);
dots(19,col(blueLeft,0),col(blueLeft,1),BLUE,2.8);
dots(19,col(redLeft,0),col(redLeft,1),RED,2.8);
dots(20,col(redRight,0),col(redRight,1),RED,2.4);
dots(20,col(greenRight,0),col(greenRight,1),GREEN,2.8);

// text
const bold={font:{family:font.family,size:15,color:'#000'}};
[['A',6,8],['B',252,8],['C',447,8],['D',6,275],['E',6,475],['F',288,475]].forEach(p=>note('<b>'+p[0]+'</b>',p[1],p[2],bold));
const ttl={font:{family:font.family,size:15,color:INK}};
[['σ = 0 pA',148,22],['σ = 150 pA',343,22],['σ = 300 pA',537,22],['σ = 0 pA',184,290],['σ = 150 pA',355,290],['σ = 300 pA',525,290]].forEach(p=>note(p[0],p[1],p[2],ttl));
note('Neuron #',12,86,{textangle:-90});
note('r (Hz)',15,172,{textangle:-90});
note('r (Hz)',15,228,{textangle:-90});
[[62],[256],[450]].forEach(p=>{note('<b>E</b>',p[0],60,{font:{family:font.family,size:11,color:RED}});note('<b>I</b>',p[0],109,{font:{family:font.family,size:11,color:BLUE}});});
[[184,448],[354,448],[524,448],[184,638]].forEach(p=>note('g<sub>I</sub> (nS)',p[0],p[1]));
note('g<sub>E</sub> (nS)',100,363,{textangle:-90});
note('g<sub>E</sub> (nS)',100,555,{textangle:-90});
note('E-rate<sub>max</sub> (Hz)',20,363,{textangle:-90});
note('P(E-rate<sub>max</sub> &gt; 300)',24,553,{textangle:-90});
note('Gridness score',292,555,{textangle:-90});
note('E-rate<sub>max</sub>',395,645);
note('P(E-rate<sub>max</sub> &gt;300)',538,645);
note('25 ms',600,151,{font:{family:font.family,size:11,color:INK}});
layout.shapes.push({type:'line',xref:'paper',yref:'paper',x0:592/W,x1:609/W,y0:1-144/Ht,y1:1-144/Ht,line:{color:'#000',width:1.6}});
const lg={font:{family:font.family,size:10,color:INK}};
note('σ (pA)',564,490,lg);
[['0',GREEN,506],['150',RED,520],['300',BLUE,534]].forEach(p=>{
  note('•   •   •',553,p[2],{font:{family:font.family,size:6,color:p[1]}});
  note(p[0],572,p[2],Object.assign({xanchor:'left'},lg));
});
Plotly.newPlot('chart',data,layout,{staticPlot:true,displayModeBar:false});
</script></body></html>
